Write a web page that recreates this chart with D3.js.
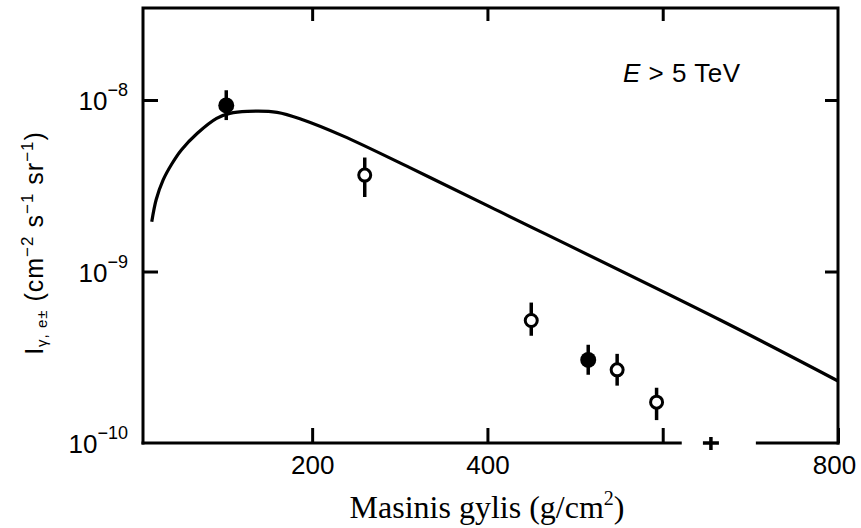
<!DOCTYPE html>
<html lang="en">
  <head>
    <meta charset="utf-8" />
    <title>Intensity vs depth</title>
    <style>
      html,
      body {
        margin: 0;
        padding: 0;
        background: #fff;
      }
      svg {
        display: block;
      }
      .sans {
        font-family: 'Liberation Sans', Arial, Helvetica, sans-serif;
      }
    </style>
  </head>
  <body>
    <svg></svg>

    <script src="https://d3js.org/d3.v7.min.js"></script>
    <script type="text/javascript">
      // Theoretical curve (depth in g/cm2, intensity in cm-2 s-1 sr-1)
      let curveDepth = [17, 22, 30, 40, 51, 69, 91, 106, 126, 160, 190, 235, 312, 403, 665, 800]
      let curveFlux = [
        1.95e-9, 2.62e-9, 3.42e-9, 4.25e-9, 5.13e-9, 6.4e-9, 7.82e-9, 8.36e-9, 8.59e-9, 8.48e-9, 7.65e-9, 6.18e-9,
        4.02e-9, 2.38e-9, 5.23e-10, 2.3e-10,
      ]

      // Measurements with error bars
      let pointDepth = [102, 260, 450, 515, 548, 593]
      let pointFlux = [9.3e-9, 3.65e-9, 5.18e-10, 3.05e-10, 2.67e-10, 1.73e-10]
      let pointHigh = [1.14e-8, 4.62e-9, 6.59e-10, 3.74e-10, 3.31e-10, 2.1e-10]
      let pointLow = [7.64e-9, 2.72e-9, 4.22e-10, 2.5e-10, 2.16e-10, 1.36e-10]
      let pointFilled = [true, false, false, true, false, false]

      // Axes
      let xTicks = [200, 400, 600, 800]
      let xTickLabels = ['200', '400', '', '800']
      let yTicks = [1e-8, 1e-9, 1e-10]
      let yTickExp = ['−8', '−9', '−10']
      let xDomain = [7, 800]
      let yDomain = [1e-10, 3.44e-8]
      // bottom axis line is broken between these depths, with a small cross inside
      let axisGap = [620, 708]
      let crossDepth = [655]

      let width = 861,
        height = 528

      let svg = d3.select('svg').attr('width', width).attr('height', height)

      let x = d3.scaleLinear().domain(xDomain).range([143, 838])
      let y = d3.scaleLog().domain(yDomain).range([443, 8])

      // Frame: left, top and right sides
      svg
        .append('path')
        .attr('d', `M${x(xDomain[0])},${y(yDomain[0]) + 1.5}V${y(yDomain[1])}H${x(xDomain[1])}V${y(yDomain[0]) + 1.5}`)
        .attr('fill', 'none')
        .attr('stroke', '#000')
        .attr('stroke-width', 3)

      // Bottom side in two pieces
      let bottomParts = [
        [xDomain[0], axisGap[0]],
        [axisGap[1], xDomain[1]],
      ]
      svg
        .append('g')
        .selectAll('line')
        .data(bottomParts)
        .join('line')
        .attr('x1', (d) => x(d[0]) - 1.5)
        .attr('x2', (d) => x(d[1]) + 1.5)
        .attr('y1', y(yDomain[0]))
        .attr('y2', y(yDomain[0]))
        .attr('stroke', '#000')
        .attr('stroke-width', 3)

      svg
        .append('g')
        .selectAll('path')
        .data(crossDepth)
        .join('path')
        .attr('d', (d) => `M${x(d) - 8},${y(yDomain[0])}h16M${x(d)},${y(yDomain[0]) - 6}v13`)
        .attr('stroke', '#000')
        .attr('stroke-width', 3.5)

      // Bottom axis ticks and labels
      svg
        .append('g')
        .attr('class', 'sans')
        .attr('transform', `translate(0,${y(yDomain[0])})`)
        .call(
          d3
            .axisBottom(x)
            .tickValues(xTicks)
            .tickSize(-15)
            .tickPadding(13)
            .tickFormat((d, i) => xTickLabels[i])
        )
        .call((g) => g.select('.domain').remove())
        .call((g) => g.selectAll('.tick line').attr('stroke-width', 3))
        .call((g) =>
          g
            .selectAll('.tick text')
            .attr('font-size', 26)
            .attr('font-family', null)
            .attr('fill', '#000')
            .attr('dx', (d) => (d === 800 ? -4 : 0))
        )

      // Top axis ticks
      svg
        .append('g')
        .attr('transform', `translate(0,${y(yDomain[1])})`)
        .call(d3.axisTop(x).tickValues(xTicks.slice(0, 3)).tickSize(-13).tickFormat(''))
        .call((g) => g.select('.domain').remove())
        .call((g) => g.selectAll('.tick line').attr('stroke-width', 3))

      // Left and right ticks
      svg
        .append('g')
        .attr('transform', `translate(${x(xDomain[0])},0)`)
        .call(d3.axisLeft(y).tickValues(yTicks.slice(0, 2)).tickSize(-15).tickFormat(''))
        .call((g) => g.select('.domain').remove())
        .call((g) => g.selectAll('.tick line').attr('stroke-width', 3))

      svg
        .append('g')
        .attr('transform', `translate(${x(xDomain[1])},0)`)
        .call(d3.axisRight(y).tickValues(yTicks.slice(0, 2)).tickSize(-13).tickFormat(''))
        .call((g) => g.select('.domain').remove())
        .call((g) => g.selectAll('.tick line').attr('stroke-width', 3))

      // Y tick labels with superscript exponents
      let yLabels = svg
        .append('g')
        .attr('class', 'sans')
        .selectAll('text')
        .data(yTicks)
        .join('text')
        .attr('x', 128)
        .attr('y', (d) => y(d) + 10)
        .attr('text-anchor', 'end')
        .attr('font-size', 26)
      yLabels.append('tspan').text('10')
      yLabels
        .append('tspan')
        .attr('dy', -14)
        .attr('font-size', 18)
        .text((d, i) => yTickExp[i])

      // Theoretical curve
      let line = d3
        .line()
        .x((d) => x(d[0]))
        .y((d) => y(d[1]))
        .curve(d3.curveCatmullRom.alpha(0.5))

      svg
        .append('path')
        .datum(d3.zip(curveDepth, curveFlux))
        .attr('d', line)
        .attr('fill', 'none')
        .attr('stroke', '#000')
        .attr('stroke-width', 3.2)

      // Data points
      let points = pointDepth.map((d, i) => ({
        depth: d,
        flux: pointFlux[i],
        high: pointHigh[i],
        low: pointLow[i],
        filled: pointFilled[i],
      }))

      let pts = svg.append('g').selectAll('g').data(points).join('g')

      pts
        .append('line')
        .attr('x1', (d) => x(d.depth))
        .attr('x2', (d) => x(d.depth))
        .attr('y1', (d) => y(d.high))
        .attr('y2', (d) => y(d.low))
        .attr('stroke', '#000')
        .attr('stroke-width', 3.5)

      pts
        .append('circle')
        .attr('cx', (d) => x(d.depth))
        .attr('cy', (d) => y(d.flux))
        .attr('r', (d) => (d.filled ? 8 : 6))
        .attr('fill', (d) => (d.filled ? '#000' : '#fff'))
        .attr('stroke', '#000')
        .attr('stroke-width', (d) => (d.filled ? 0 : 3))

      // Energy note
      let note = svg
        .append('text')
        .attr('class', 'sans')
        .attr('x', 623)
        .attr('y', 82)
        .attr('font-size', 26)
        .attr('letter-spacing', 0.5)
      note.append('tspan').attr('font-style', 'italic').text('E')
      note.append('tspan').text(' > 5 TeV')

      // Y axis title
      let yTitle = svg
        .append('text')
        .attr('class', 'sans')
        .attr('transform', 'translate(43,243) rotate(-90)')
        .attr('text-anchor', 'middle')
        .attr('font-size', 25)
        .attr('letter-spacing', 1)
      yTitle.append('tspan').text('I')
      yTitle.append('tspan').attr('font-size', 15).attr('dy', 4).text('γ, e±')
      yTitle.append('tspan').attr('dy', -4).text(' (cm')
      yTitle.append('tspan').attr('font-size', 17).attr('dy', -10).text('−2')
      yTitle.append('tspan').attr('dy', 10).text(' s')
      yTitle.append('tspan').attr('font-size', 17).attr('dy', -10).text('−1')
      yTitle.append('tspan').attr('dy', 10).text(' sr')
      yTitle.append('tspan').attr('font-size', 17).attr('dy', -10).text('−1')
      yTitle.append('tspan').attr('dy', 10).text(')')

      // X axis title
      let xTitle = svg
        .append('text')
        .attr('x', 487)
        .attr('y', 518)
        .attr('text-anchor', 'middle')
        .attr('font-family', "'Liberation Serif', 'Times New Roman', serif")
        .attr('font-size', 32)
      xTitle.append('tspan').text('Masinis gylis (g/cm')
      xTitle.append('tspan').attr('font-size', 20).attr('dy', -13).text('2')
      xTitle.append('tspan').attr('dy', 13).text(')')
    </script>
  </body>
</html>
